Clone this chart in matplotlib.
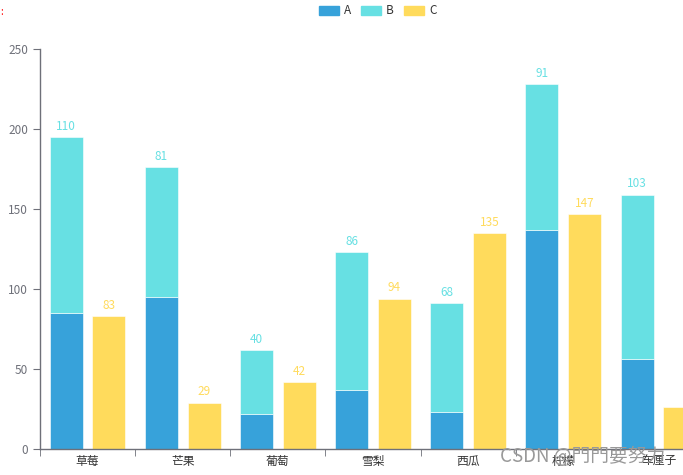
import matplotlib.pyplot as plt
import numpy as np

plt.rcParams['font.family'] = ['Noto Sans CJK SC', 'DejaVu Sans']

categories = ["草莓", "芒果", "葡萄", "雪梨", "西瓜", "柠檬", "车厘子"]
a_vals = [85, 95, 22, 37, 23, 137, 56]
b_vals = [110, 81, 40, 86, 68, 91, 103]
c_vals = [83, 29, 42, 94, 135, 147, 26]

colA, colB, colC = "#37A2DA", "#67E0E3", "#FFDB5C"
axis_col = "#6E7079"

fig = plt.figure(figsize=(6.83, 4.75), dpi=100)
# plot area continues past the right edge (cropped screenshot)
ax = fig.add_axes([40 / 683, 26 / 475, 666 / 683, 400 / 475])

x = np.arange(len(categories))
w = 0.347
off = 0.225
ax.bar(x - off, a_vals, w, color=colA, edgecolor="white", linewidth=0.4)
ax.bar(x - off, b_vals, w, bottom=a_vals, color=colB, edgecolor="white", linewidth=0.4)
ax.bar(x + off, c_vals, w, color=colC, edgecolor="white", linewidth=0.4)

for i in range(len(categories)):
    ax.annotate(str(b_vals[i]), (x[i] - off, a_vals[i] + b_vals[i]), xytext=(0, 3),
                textcoords="offset points", ha="center", va="bottom", color=colB, fontsize=8.5)
    # the last yellow label falls outside the visible area in the reference
    if i < len(categories) - 1:
        ax.annotate(str(c_vals[i]), (x[i] + off, c_vals[i]), xytext=(0, 3),
                    textcoords="offset points", ha="center", va="bottom", color=colC, fontsize=8.5)

ax.set_xlim(-0.5, len(categories) - 0.5)
ax.set_ylim(0, 250)
ax.set_yticks([0, 50, 100, 150, 200, 250])
ax.set_xticks(x)
ax.set_xticklabels(categories)
ax.set_xticks(np.arange(len(categories) + 1) - 0.5, minor=True)
ax.tick_params(axis="x", which="major", length=0, pad=4, labelsize=8.5, labelcolor="#333333")
ax.tick_params(axis="x", which="minor", length=5, color=axis_col, direction="out")
ax.tick_params(axis="y", length=5, color=axis_col, labelcolor=axis_col, labelsize=8.5)

for s in ["top", "right"]:
    ax.spines[s].set_visible(False)
for s in ["left", "bottom"]:
    ax.spines[s].set_color(axis_col)
    ax.spines[s].set_linewidth(1)

# legend
handles = [plt.Rectangle((0, 0), 1, 1, color=c) for c in (colA, colB, colC)]
fig.legend(handles, ["A", "B", "C"], loc="upper center", bbox_to_anchor=(0.553, 1.013),
           ncol=3, frameon=False, fontsize=8.5, handlelength=1.7, handleheight=0.8,
           handletextpad=0.4, columnspacing=0.9, labelcolor="#333333")

fig.text(0.0, 0.975, ":", color="red", fontsize=7, va="center")
fig.text(0.732, 0.038, "CSDN @門門要努力", color="#999999", fontsize=13.5, va="center")

fig.savefig("out.png", dpi=100)
